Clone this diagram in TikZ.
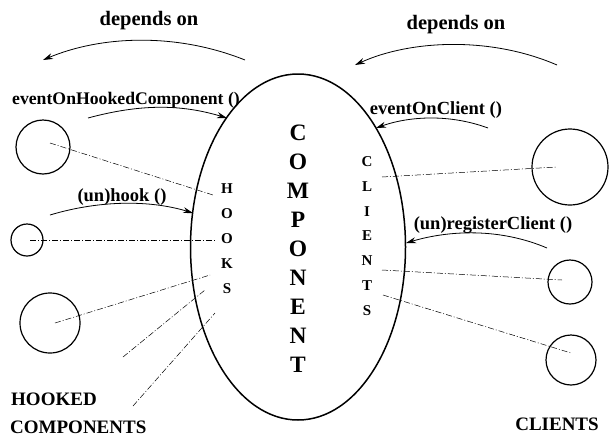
\documentclass[tikz,border=0pt]{standalone}
\usepackage{fontspec}
\setmainfont{Liberation Serif}
\usetikzlibrary{shapes.geometric,arrows.meta}
\tikzset{
  lbl/.style={font=\bfseries\fontsize{18.5}{20}\selectfont, inner sep=0pt},
  biglbl/.style={font=\bfseries\fontsize{19}{20}\selectfont, inner sep=0pt},
  vert/.style 2 args={font=\bfseries\fontsize{#1}{#2}\selectfont, align=center, inner sep=0pt},
  comp/.style={circle, draw, line width=1.2pt, inner sep=0pt},
  dd/.style={line width=0.5pt, dash pattern=on 6pt off 2pt on 1pt off 2pt},
  arr/.style={line width=0.8pt, -{Stealth[length=10pt,width=6pt]}},
}
\begin{document}
\begin{tikzpicture}[x=1pt,y=-1pt]
\useasboundingbox (0,0) rectangle (610,437);
% central component
\node[ellipse, draw, line width=1.5pt, minimum width=215pt, minimum height=346pt, inner sep=0pt] (core) at (298,247) {};
\node[vert={23.5}{29}] (compname) at (298,249) {C\\O\\M\\P\\O\\N\\E\\N\\T};
\node[vert={15}{25}] (hooks) at (227,239) {H\\O\\O\\K\\S};
\node[vert={15}{24.7}] (clients) at (367,236) {C\\L\\I\\E\\N\\T\\S};
% labels
\node[lbl, font=\bfseries\fontsize{20.5}{22}\selectfont] (dep1) at (149,21) {depends on};
\node[lbl, font=\bfseries\fontsize{20.5}{22}\selectfont] (dep2) at (456,25) {depends on};
\node[lbl, font=\bfseries\fontsize{17.7}{20}\selectfont] (evhc) at (126,100) {eventOnHookedComponent ()};
\node[lbl] (hook) at (122,197) {(un)hook ()};
\node[lbl] (evc) at (436,110) {eventOnClient ()};
\node[lbl] (reg) at (493,225) {(un)registerClient ()};
\node[biglbl, anchor=west] (hk1) at (11,399) {HOOKED};
\node[biglbl, anchor=west] (hk2) at (10,427) {COMPONENTS};
\node[biglbl] (cl) at (557,424) {CLIENTS};
% components (circles)
\node[comp, minimum size=54pt] (h1) at (43,147) {};
\node[comp, minimum size=32pt] (h2) at (27,240) {};
\node[comp, minimum size=60pt] (h3) at (50,323) {};
\node[comp, minimum size=76pt] (c1) at (570,167) {};
\node[comp, minimum size=44pt] (c2) at (570,282) {};
\node[comp, minimum size=50pt] (c3) at (571,360) {};
% arrow end points
\coordinate (d1s) at (245,60); \coordinate (d1e) at (43,60);
\coordinate (d2s) at (557,65); \coordinate (d2e) at (355,65);
\coordinate (e1s) at (88,118); \coordinate (e1e) at (227,118);
\coordinate (u1s) at (50,215); \coordinate (u1e) at (193,213);
\coordinate (e2s) at (488,128); \coordinate (e2e) at (376,128);
\coordinate (r2s) at (547,248); \coordinate (r2e) at (406,243);
\draw[arr] (d1s) .. controls (175,32) and (100,36) .. (d1e);
\draw[arr] (d2s) .. controls (490,36) and (410,40) .. (d2e);
\draw[arr] (e1s) .. controls (140,104) and (180,104) .. (e1e);
\draw[arr] (u1s) .. controls (100,200) and (150,200) .. (u1e);
\draw[arr] (e2s) .. controls (450,114) and (410,116) .. (e2e);
\draw[arr] (r2s) .. controls (500,228) and (450,230) .. (r2e);
% dash-dot links
\coordinate (l1a) at (50,143);  \coordinate (l1b) at (213,195);
\coordinate (l2a) at (30,240);  \coordinate (l2b) at (215,240);
\coordinate (l3a) at (55,323);  \coordinate (l3b) at (210,275);
\coordinate (l4a) at (123,357); \coordinate (l4b) at (205,290);
\coordinate (l5a) at (133,406); \coordinate (l5b) at (215,313);
\coordinate (l6a) at (382,177); \coordinate (l6b) at (557,167);
\coordinate (l7a) at (382,270); \coordinate (l7b) at (562,280);
\coordinate (l8a) at (383,295); \coordinate (l8b) at (571,353);
\draw[dd] (l1a) -- (l1b);
\draw[dd] (l2a) -- (l2b);
\draw[dd] (l3a) -- (l3b);
\draw[dd] (l4a) -- (l4b);
\draw[dd] (l5a) -- (l5b);
\draw[dd] (l6a) -- (l6b);
\draw[dd] (l7a) -- (l7b);
\draw[dd] (l8a) -- (l8b);
\end{tikzpicture}
\end{document}
